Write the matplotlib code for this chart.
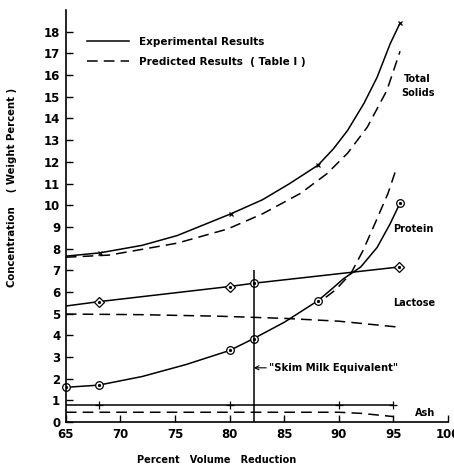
import matplotlib
matplotlib.use('Agg')
import matplotlib.pyplot as plt
from matplotlib.lines import Line2D

plt.rcParams['font.family'] = 'DejaVu Sans'
plt.rcParams['font.weight'] = 'bold'
plt.rcParams['axes.labelweight'] = 'bold'

# total solids
ts_exp_x = [65, 68.1, 72, 75.2, 80.1, 83, 85.5, 88.1, 89.5, 90.8, 92.3, 93.5, 94.7, 95.6]
ts_exp_y = [7.65, 7.8, 8.15, 8.6, 9.6, 10.25, 11.0, 11.85, 12.6, 13.45, 14.7, 15.9, 17.45, 18.4]
ts_pts_x = [68.1, 80.1, 88.1, 95.6]
ts_pts_y = [7.8, 9.6, 11.85, 18.4]
ts_pred_x = [65, 69, 75.2, 79.8, 83, 86.5, 88.9, 90.8, 92.6, 94.4, 95.6]
ts_pred_y = [7.6, 7.7, 8.25, 8.9, 9.6, 10.55, 11.45, 12.4, 13.6, 15.3, 17.1]

# lactose
lac_exp_x = [65, 68, 80, 82.2, 95.5]
lac_exp_y = [5.35, 5.55, 6.25, 6.4, 7.15]
lac_dia_x = [68, 80, 95.5]
lac_dia_y = [5.55, 6.25, 7.15]
lac_circ_x = [82.2]
lac_circ_y = [6.4]
lac_pred_x = [65, 72, 79, 85, 90, 95.4]
lac_pred_y = [4.98, 4.95, 4.88, 4.78, 4.65, 4.38]

# protein
pro_exp_x = [65, 68, 72, 76, 80, 82.2, 85, 88.1, 89.5, 90.4, 92.0, 93.5, 94.7, 95.6]
pro_exp_y = [1.6, 1.7, 2.1, 2.65, 3.3, 3.85, 4.6, 5.6, 6.2, 6.6, 7.15, 8.05, 9.15, 10.1]
pro_pts_x = [65, 68, 80, 82.2, 88.1, 95.6]
pro_pts_y = [1.6, 1.7, 3.3, 3.85, 5.6, 10.1]
pro_pred_x = [88.8, 89.7, 91.1, 92.2, 93.3, 94.5, 95.3]
pro_pred_y = [5.75, 6.1, 6.85, 7.9, 9.15, 10.55, 11.75]

# ash
ash_exp_x = [65, 68, 80, 82.2, 90, 95]
ash_exp_y = [0.78, 0.78, 0.78, 0.78, 0.78, 0.78]
ash_pts_x = [68, 80, 90, 95]
ash_pts_y = [0.78, 0.78, 0.78, 0.78]
ash_pred_x = [65, 90, 92, 94, 95]
ash_pred_y = [0.45, 0.45, 0.4, 0.3, 0.25]

skim_x = 82.2
skim_top = 7.0

fig = plt.figure(figsize=(4.54, 4.66), dpi=100)
ax = fig.add_axes([0.145, 0.0944, 0.842, 0.884])

lw = 1.1
dash = (0, (7, 4))

ax.plot(ts_exp_x, ts_exp_y, color='black', lw=lw)
ax.plot(ts_pts_x, ts_pts_y, 'x', color='black', ms=3.5, mew=0.9)
ax.plot(ts_pred_x, ts_pred_y, color='black', lw=lw, ls=dash)

ax.plot(lac_exp_x, lac_exp_y, color='black', lw=lw)
ax.plot(lac_dia_x, lac_dia_y, 'D', mfc='white', mec='black', ms=5.5, mew=0.9)
ax.plot(lac_circ_x, lac_circ_y, 'o', mfc='white', mec='black', ms=5.5, mew=0.9)
ax.plot(lac_dia_x + lac_circ_x, lac_dia_y + lac_circ_y, 'o', color='black', ms=1.3)
ax.plot(lac_pred_x, lac_pred_y, color='black', lw=lw, ls=dash)

ax.plot(pro_exp_x, pro_exp_y, color='black', lw=lw)
ax.plot(pro_pts_x, pro_pts_y, 'o', mfc='white', mec='black', ms=5.5, mew=0.9, clip_on=False)
ax.plot(pro_pts_x, pro_pts_y, 'o', color='black', ms=1.3)
ax.plot(pro_pred_x, pro_pred_y, color='black', lw=lw, ls=dash)

ax.plot(ash_exp_x, ash_exp_y, color='black', lw=lw)
ax.plot(ash_pts_x, ash_pts_y, '+', color='black', ms=6, mew=0.9)
ax.plot(ash_pred_x, ash_pred_y, color='black', lw=lw, ls=dash)

ax.vlines(skim_x, 0, skim_top, color='black', lw=lw)
ax.annotate('"Skim Milk Equivalent"', xy=(skim_x, 2.5), xytext=(83.6, 2.5),
            fontsize=7.2, va='center',
            arrowprops=dict(arrowstyle='->', lw=0.8, color='black', shrinkA=0, shrinkB=0))

ax.text(97.2, 15.5, 'Total\nSolids', fontsize=7, ha='center', va='center', linespacing=1.4)
ax.text(95.0, 8.9, 'Protein', fontsize=7, ha='left', va='center')
ax.text(95.0, 5.5, 'Lactose', fontsize=7, ha='left', va='center')
ax.text(97.0, 0.42, 'Ash', fontsize=7, ha='left', va='center')

handles = [Line2D([], [], color='black', lw=lw),
           Line2D([], [], color='black', lw=lw, ls=dash)]
ax.legend(handles, ['Experimental Results', 'Predicted Results  ( Table I )'],
          loc='upper left', bbox_to_anchor=(0.055, 0.935), frameon=False,
          fontsize=7.5, handlelength=4.0, handletextpad=1.0, labelspacing=0.95,
          borderpad=0, borderaxespad=0)

ax.set_xlim(65, 100)
ax.set_ylim(0, 19)
ax.set_xticks(range(65, 101, 5))
ax.set_yticks(range(0, 19))
ax.tick_params(direction='in', length=5, width=1, labelsize=8.5, pad=4)
ax.spines['top'].set_visible(False)
ax.spines['right'].set_visible(False)
ax.spines['left'].set_linewidth(1.2)
ax.spines['bottom'].set_linewidth(1.2)

ax.set_xlabel('Percent   Volume   Reduction', fontsize=7)
ax.xaxis.set_label_coords(0.395, -0.08)
ax.set_ylabel('Concentration    ( Weight Percent )', fontsize=7.3)
ax.yaxis.set_label_coords(-0.128, 0.57)

fig.savefig('out.png', dpi=100)
